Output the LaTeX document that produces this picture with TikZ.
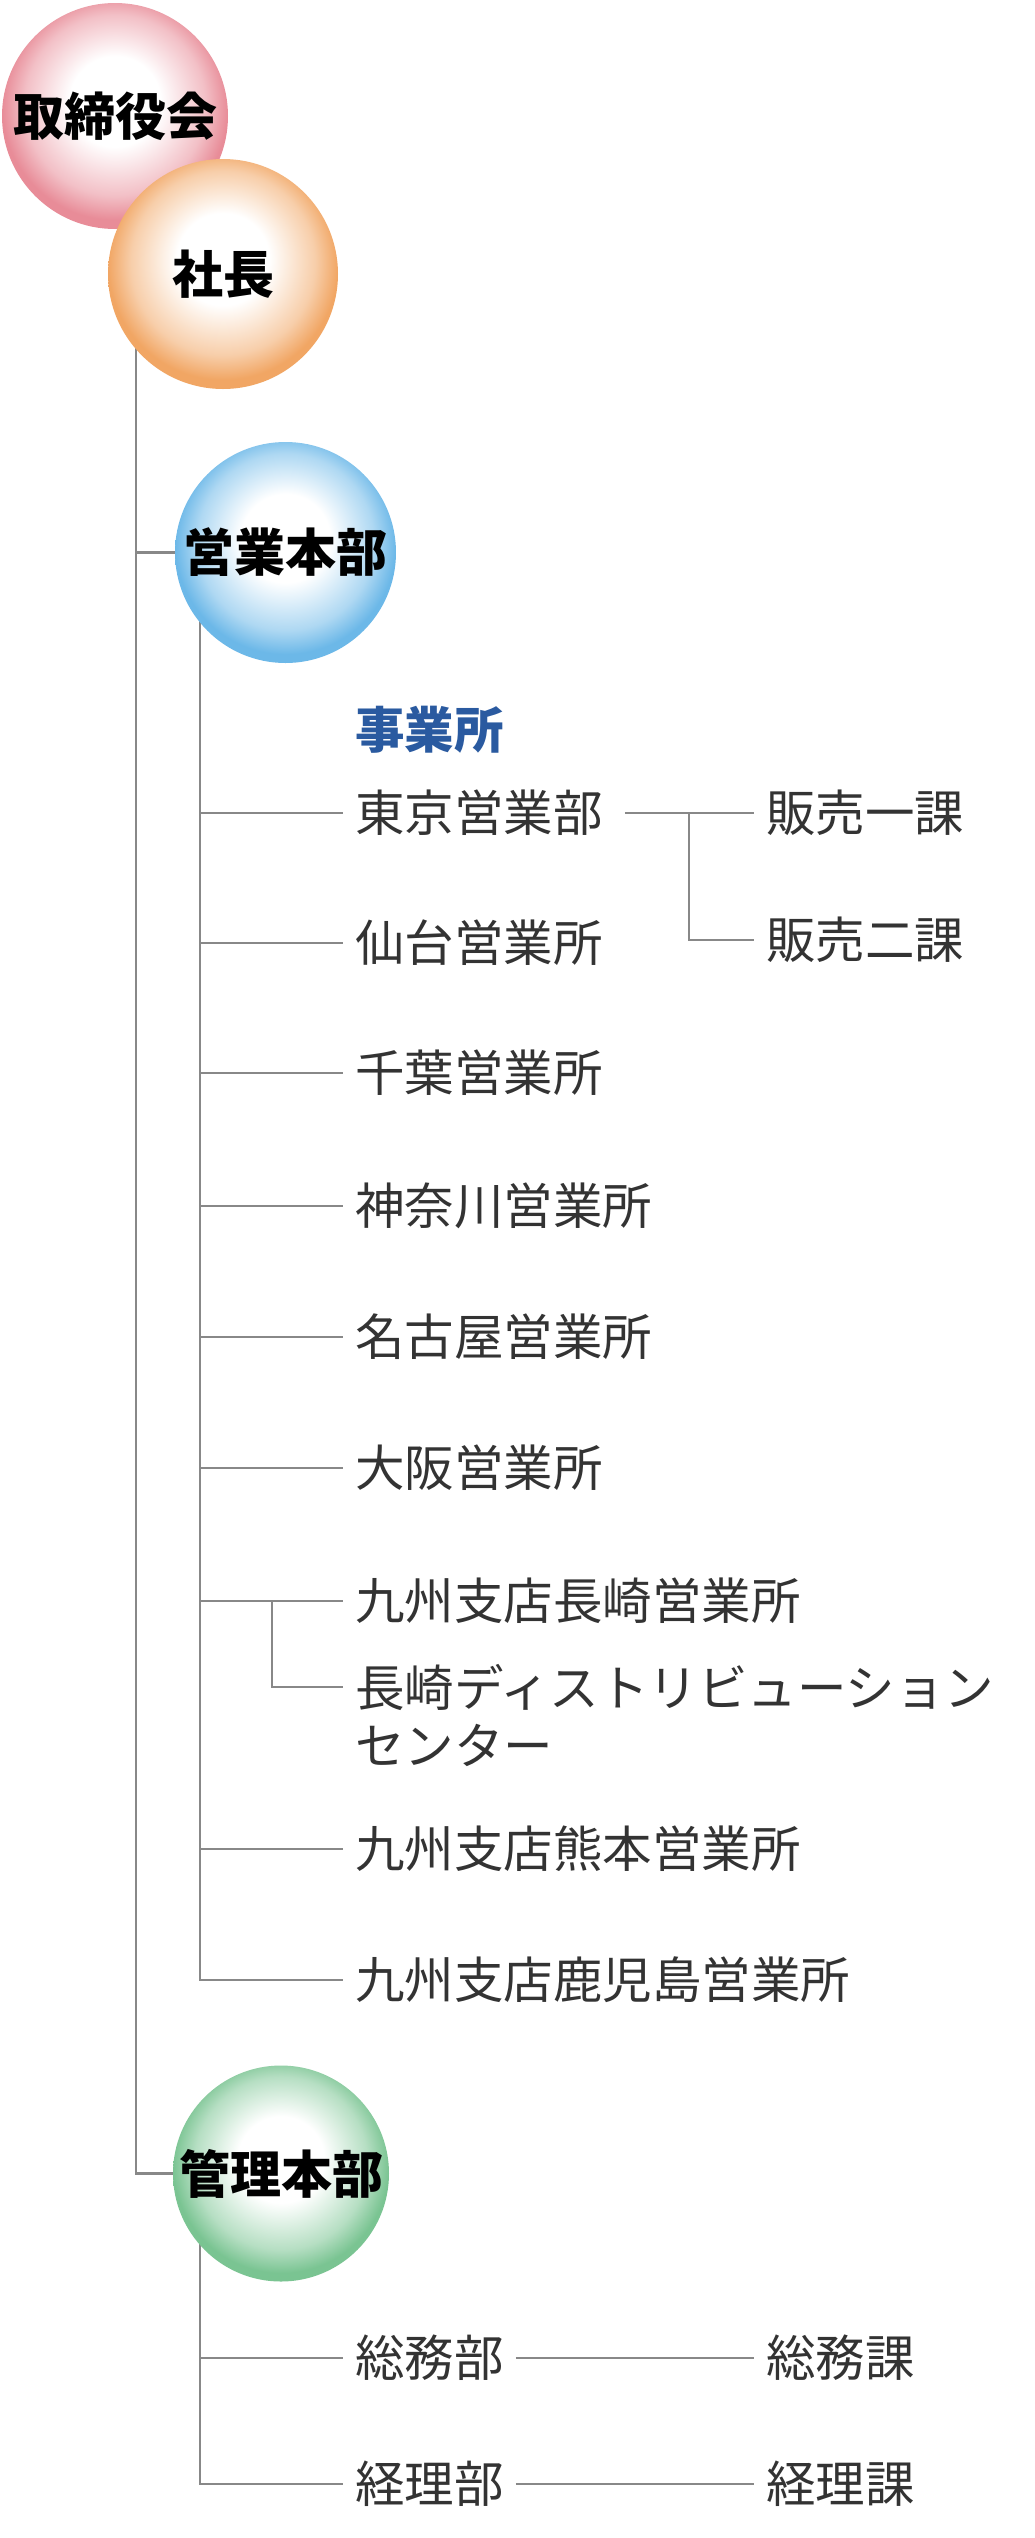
\documentclass[tikz,border=0pt]{standalone}
\usepackage{fontspec}
\newfontfamily\jp{Noto Sans CJK JP}
\definecolor{pinkE}{RGB}{232,140,152}
\definecolor{orangeE}{RGB}{241,166,100}
\definecolor{blueE}{RGB}{108,184,232}
\definecolor{greenE}{RGB}{122,196,146}
\definecolor{linegray}{RGB}{136,136,136}
\definecolor{txt}{RGB}{51,51,51}
\definecolor{headblue}{RGB}{42,90,160}
\pgfdeclarelayer{bg}
\pgfsetlayers{bg,main}
\pgfdeclareradialshading{pinkball}{\pgfpoint{0bp}{4bp}}{color(0bp)=(white); color(10bp)=(white); color(20bp)=(pinkE!55!white); color(25bp)=(pinkE); color(50bp)=(pinkE)}
\pgfdeclareradialshading{orangeball}{\pgfpoint{0bp}{4bp}}{color(0bp)=(white); color(10bp)=(white); color(20bp)=(orangeE!55!white); color(25bp)=(orangeE); color(50bp)=(orangeE)}
\pgfdeclareradialshading{blueball}{\pgfpoint{0bp}{4bp}}{color(0bp)=(white); color(10bp)=(white); color(20bp)=(blueE!55!white); color(25bp)=(blueE); color(50bp)=(blueE)}
\pgfdeclareradialshading{greenball}{\pgfpoint{0bp}{4bp}}{color(0bp)=(white); color(10bp)=(white); color(20bp)=(greenE!55!white); color(25bp)=(greenE); color(50bp)=(greenE)}
\begin{document}
\begin{tikzpicture}[x=1pt,y=-1pt,
  ball/.style={circle, inner sep=0pt, shade, text=black, font=\jp\bfseries\fontsize{51}{60}\selectfont},
  item/.style={anchor=west, inner xsep=12pt, inner ysep=0pt, text=txt, font=\jp\fontsize{49.5}{58}\selectfont},
  headtext/.style={anchor=west, inner sep=0pt, text=headblue, font=\jp\bfseries\fontsize{49.5}{58}\selectfont},
  conn/.style={draw=linegray, line width=2.6pt}]
\useasboundingbox (0,0) rectangle (1035,2538);
% circles
\node[ball, minimum size=226pt, shading=pinkball] (board) at (115,116) {取締役会};
\node[ball, minimum size=230pt, shading=orangeball] (pres) at (223,274) {社長};
\node[ball, minimum size=221pt, shading=blueball] (sales) at (285.5,552.5) {営業本部};
\node[ball, minimum size=216pt, shading=greenball] (admin) at (281,2173.5) {管理本部};
% trunk coordinates
\coordinate (trunk) at (136,0);
\coordinate (trunkB) at (200,0);
\coordinate (trunkC) at (272,0);
\coordinate (trunkD) at (689,0);
% texts
\node[headtext] (jigyo) at (355,730) {事業所};
\node[item] (tokyo) at (343,813) {東京営業部};
\node[item] (sendai) at (343,943) {仙台営業所};
\node[item] (chiba) at (343,1073) {千葉営業所};
\node[item] (kanagawa) at (343,1206) {神奈川営業所};
\node[item] (nagoya) at (343,1337) {名古屋営業所};
\node[item] (osaka) at (343,1468) {大阪営業所};
\node[item] (nagasaki) at (343,1601) {九州支店長崎営業所};
\node[item] (dist) at (343,1687) {長崎ディストリビューション};
\node[item] (distb) at (343,1745) {センター};
\node[item] (kumamoto) at (343,1849) {九州支店熊本営業所};
\node[item] (kagoshima) at (343,1980) {九州支店鹿児島営業所};
\node[item] (hanbai1) at (754,813) {販売一課};
\node[item] (hanbai2) at (754,940) {販売二課};
\node[item] (somu) at (343,2358) {総務部};
\node[item] (somuka) at (754,2358) {総務課};
\node[item] (keiri) at (343,2484) {経理部};
\node[item] (keirika) at (754,2484) {経理課};
% connectors
\begin{pgfonlayer}{bg}
\fill[white] (0,0) rectangle (1035,2538);
\draw[conn] (pres.center -| trunk) |- (admin.west);
\draw[conn] (sales.west -| trunk) -- (sales.west);
\draw[conn] (sales.center -| trunkB) |- (kagoshima.west);
\foreach \n in {tokyo,sendai,chiba,kanagawa,nagoya,osaka,nagasaki,kumamoto}
  \draw[conn] (\n.west -| trunkB) -- (\n.west);
\draw[conn] (nagasaki.west -| trunkC) |- (dist.west);
\draw[conn, shorten <=10pt] (tokyo.east) -- (hanbai1.west);
\draw[conn] (hanbai1.west -| trunkD) |- (hanbai2.west);
\draw[conn] (admin.center -| trunkB) |- (keiri.west);
\draw[conn] (somu.west -| trunkB) -- (somu.west);
\draw[conn] (somu.east) -- (somuka.west);
\draw[conn] (keiri.east) -- (keirika.west);
\end{pgfonlayer}
\end{tikzpicture}
\end{document}
